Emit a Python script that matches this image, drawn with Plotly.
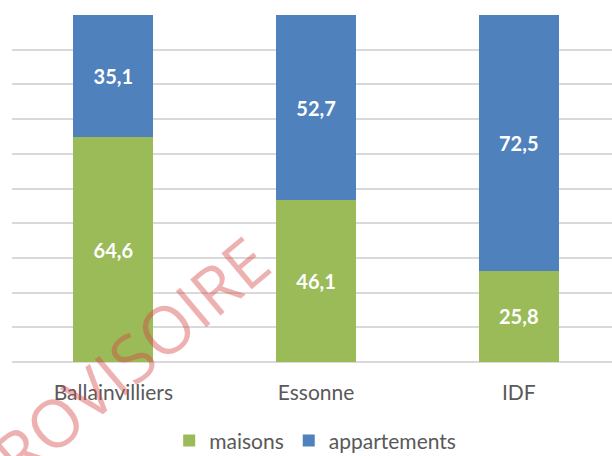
import plotly.graph_objects as go

# Répartition des logements (%), par territoire
territoires = ["Ballainvilliers", "Essonne", "IDF"]
maisons = [64.6, 46.1, 25.8]
appartements = [35.1, 52.7, 72.5]

VERT = "#9BBB59"
BLEU = "#4F81BD"
FONT = "Lato, 'Open Sans', sans-serif"


def etiquettes(valeurs):
    return [f"{v:.1f}".replace(".", ",") for v in valeurs]


fig = go.Figure()
for nom, valeurs, couleur in [("maisons", maisons, VERT),
                              ("appartements", appartements, BLEU)]:
    fig.add_trace(go.Bar(
        name=nom,
        x=territoires,
        y=valeurs,
        marker=dict(color=couleur, line=dict(width=0)),
        width=0.395,
        text=etiquettes(valeurs),
        textposition="inside",
        insidetextanchor="middle",
        textangle=0,
        textfont=dict(family=FONT, size=20, color="white", weight="bold"),
    ))

fig.update_layout(
    barmode="stack",
    barnorm="percent",
    width=612,
    height=456,
    margin=dict(l=12, r=0, t=15, b=94),
    plot_bgcolor="white",
    paper_bgcolor="white",
    font=dict(family=FONT, size=20, color="#595959"),
    showlegend=True,
    legend=dict(
        orientation="h",
        xref="container", yref="container",
        x=0.515, xanchor="center",
        y=0.033, yanchor="middle",
        font=dict(size=21, color="#595959"),
        itemwidth=30,
        traceorder="normal",
    ),
    xaxis=dict(
        range=[-0.5, 2.46],
        showgrid=False,
        showline=False,
        ticks="",
        ticklabelstandoff=16,
        tickfont=dict(size=21, color="#595959"),
    ),
    yaxis=dict(
        range=[0, 100],
        dtick=10,
        showgrid=True,
        gridcolor="#D9D9D9",
        gridwidth=1.5,
        showticklabels=False,
        zeroline=True,
        zerolinecolor="#D9D9D9",
        zerolinewidth=1.5,
        showline=False,
    ),
    annotations=[dict(
        text="PROVISOIRE",
        xref="paper", yref="paper",
        x=0.172, y=-0.024,
        xanchor="center", yanchor="middle",
        textangle=-40,
        showarrow=False,
        font=dict(family="'Open Sans', sans-serif", size=66,
                  color="rgba(215,70,70,0.42)", weight=400),
    )],
)

fig.write_html("out.html")
